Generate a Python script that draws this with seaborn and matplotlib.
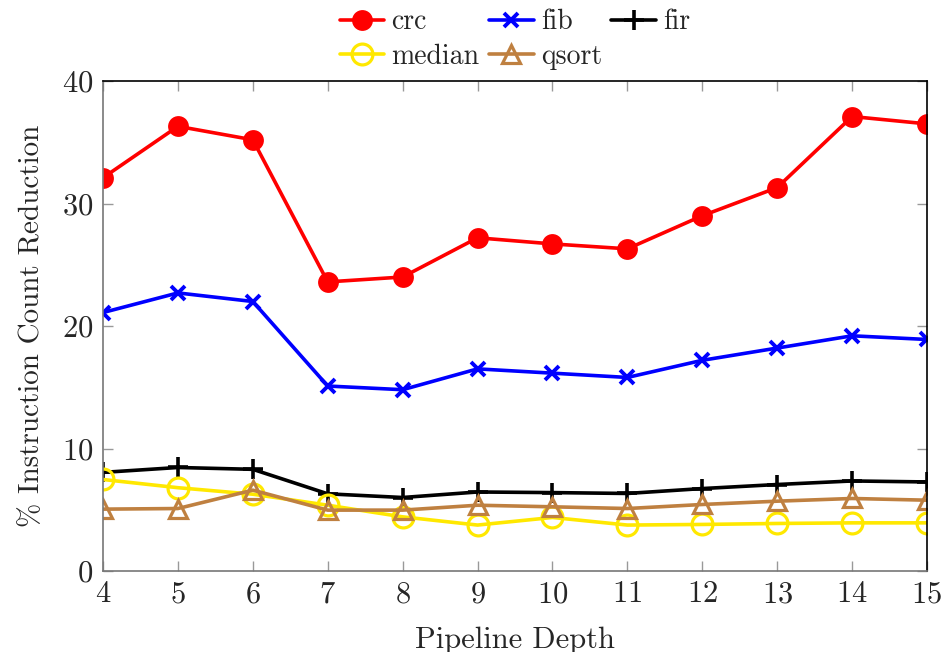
import matplotlib
matplotlib.use("Agg")
import matplotlib.pyplot as plt
import seaborn as sns
import pandas as pd

depths = [4, 5, 6, 7, 8, 9, 10, 11, 12, 13, 14, 15]
crc = [32.1, 36.3, 35.2, 23.6, 24.0, 27.2, 26.7, 26.3, 29.0, 31.3, 37.1, 36.5]
fib = [21.1, 22.7, 22.0, 15.1, 14.8, 16.5, 16.15, 15.8, 17.2, 18.2, 19.2, 18.9]
fir = [8.05, 8.45, 8.3, 6.3, 6.0, 6.45, 6.4, 6.33, 6.73, 7.06, 7.35, 7.27]
median = [7.47, 6.8, 6.27, 5.37, 4.42, 3.75, 4.37, 3.75, 3.8, 3.88, 3.93, 3.93]
qsort = [5.05, 5.1, 6.6, 4.97, 4.97, 5.37, 5.24, 5.1, 5.43, 5.7, 5.92, 5.78]
y_ticks = [0, 10, 20, 30, 40]

series = {"crc": crc, "fib": fib, "fir": fir, "median": median, "qsort": qsort}
df = pd.DataFrame(
    [(name, d, v) for name, vals in series.items() for d, v in zip(depths, vals)],
    columns=["benchmark", "depth", "reduction"],
)

sns.set_theme(style="ticks")
plt.rcParams["font.family"] = "serif"
plt.rcParams["font.serif"] = ["cmr10", "DejaVu Serif"]
plt.rcParams["mathtext.fontset"] = "cm"
plt.rcParams["axes.formatter.use_mathtext"] = True

styles = {
    "crc": dict(color="#ff0000", marker="o", markersize=15, markeredgewidth=0,
                markerfacecolor="#ff0000", markeredgecolor="#ff0000"),
    "fib": dict(color="#0000ff", marker="x", markersize=10, markeredgewidth=2.8,
                markeredgecolor="#0000ff"),
    "fir": dict(color="#000000", marker="+", markersize=15, markeredgewidth=2.6,
                markeredgecolor="#000000"),
    "median": dict(color="#ffe800", marker="o", markersize=15, markeredgewidth=2.3,
                   markerfacecolor="none", markeredgecolor="#ffe800"),
    "qsort": dict(color="#bf8040", marker="^", markersize=13, markeredgewidth=2.3,
                  markerfacecolor="none", markeredgecolor="#bf8040"),
}

fig = plt.figure(figsize=(9.43, 6.52), dpi=100)
ax = fig.add_axes([103 / 943, 1 - 571 / 652, (927 - 103) / 943, (571 - 81) / 652])

handles = {}
for name in series:
    sub = df[df["benchmark"] == name]
    sns.lineplot(data=sub, x="depth", y="reduction", ax=ax, linewidth=2.6,
                 label=name, **styles[name])
    handles[name] = ax.get_lines()[-1]

ax.set_xlim(4, 15)
ax.set_ylim(0, 40)
ax.set_xticks(depths)
ax.set_yticks(y_ticks)
ax.tick_params(direction="in", length=7, width=1, color="#999999",
               top=True, right=True, labelsize=22, pad=7)
ax.spines["left"].set_color("#777777")
ax.spines["bottom"].set_color("#777777")
ax.spines["top"].set_color("#000000")
ax.spines["right"].set_color("#000000")
for s in ax.spines.values():
    s.set_linewidth(1.2)
ax.set_xlabel("Pipeline Depth", fontsize=22, labelpad=13)
ax.set_ylabel("% Instruction Count Reduction", fontsize=21, labelpad=12)

order = ["crc", "median", "fib", "qsort", "fir"]
ax.legend([handles[n] for n in order], order, ncol=3, frameon=False,
          loc="lower center", bbox_to_anchor=(0.5, 1.0), fontsize=20,
          handlelength=1.6, columnspacing=0.35, handletextpad=0.25,
          labelspacing=0.3, borderaxespad=0.0)

fig.savefig("out.png", dpi=100)
